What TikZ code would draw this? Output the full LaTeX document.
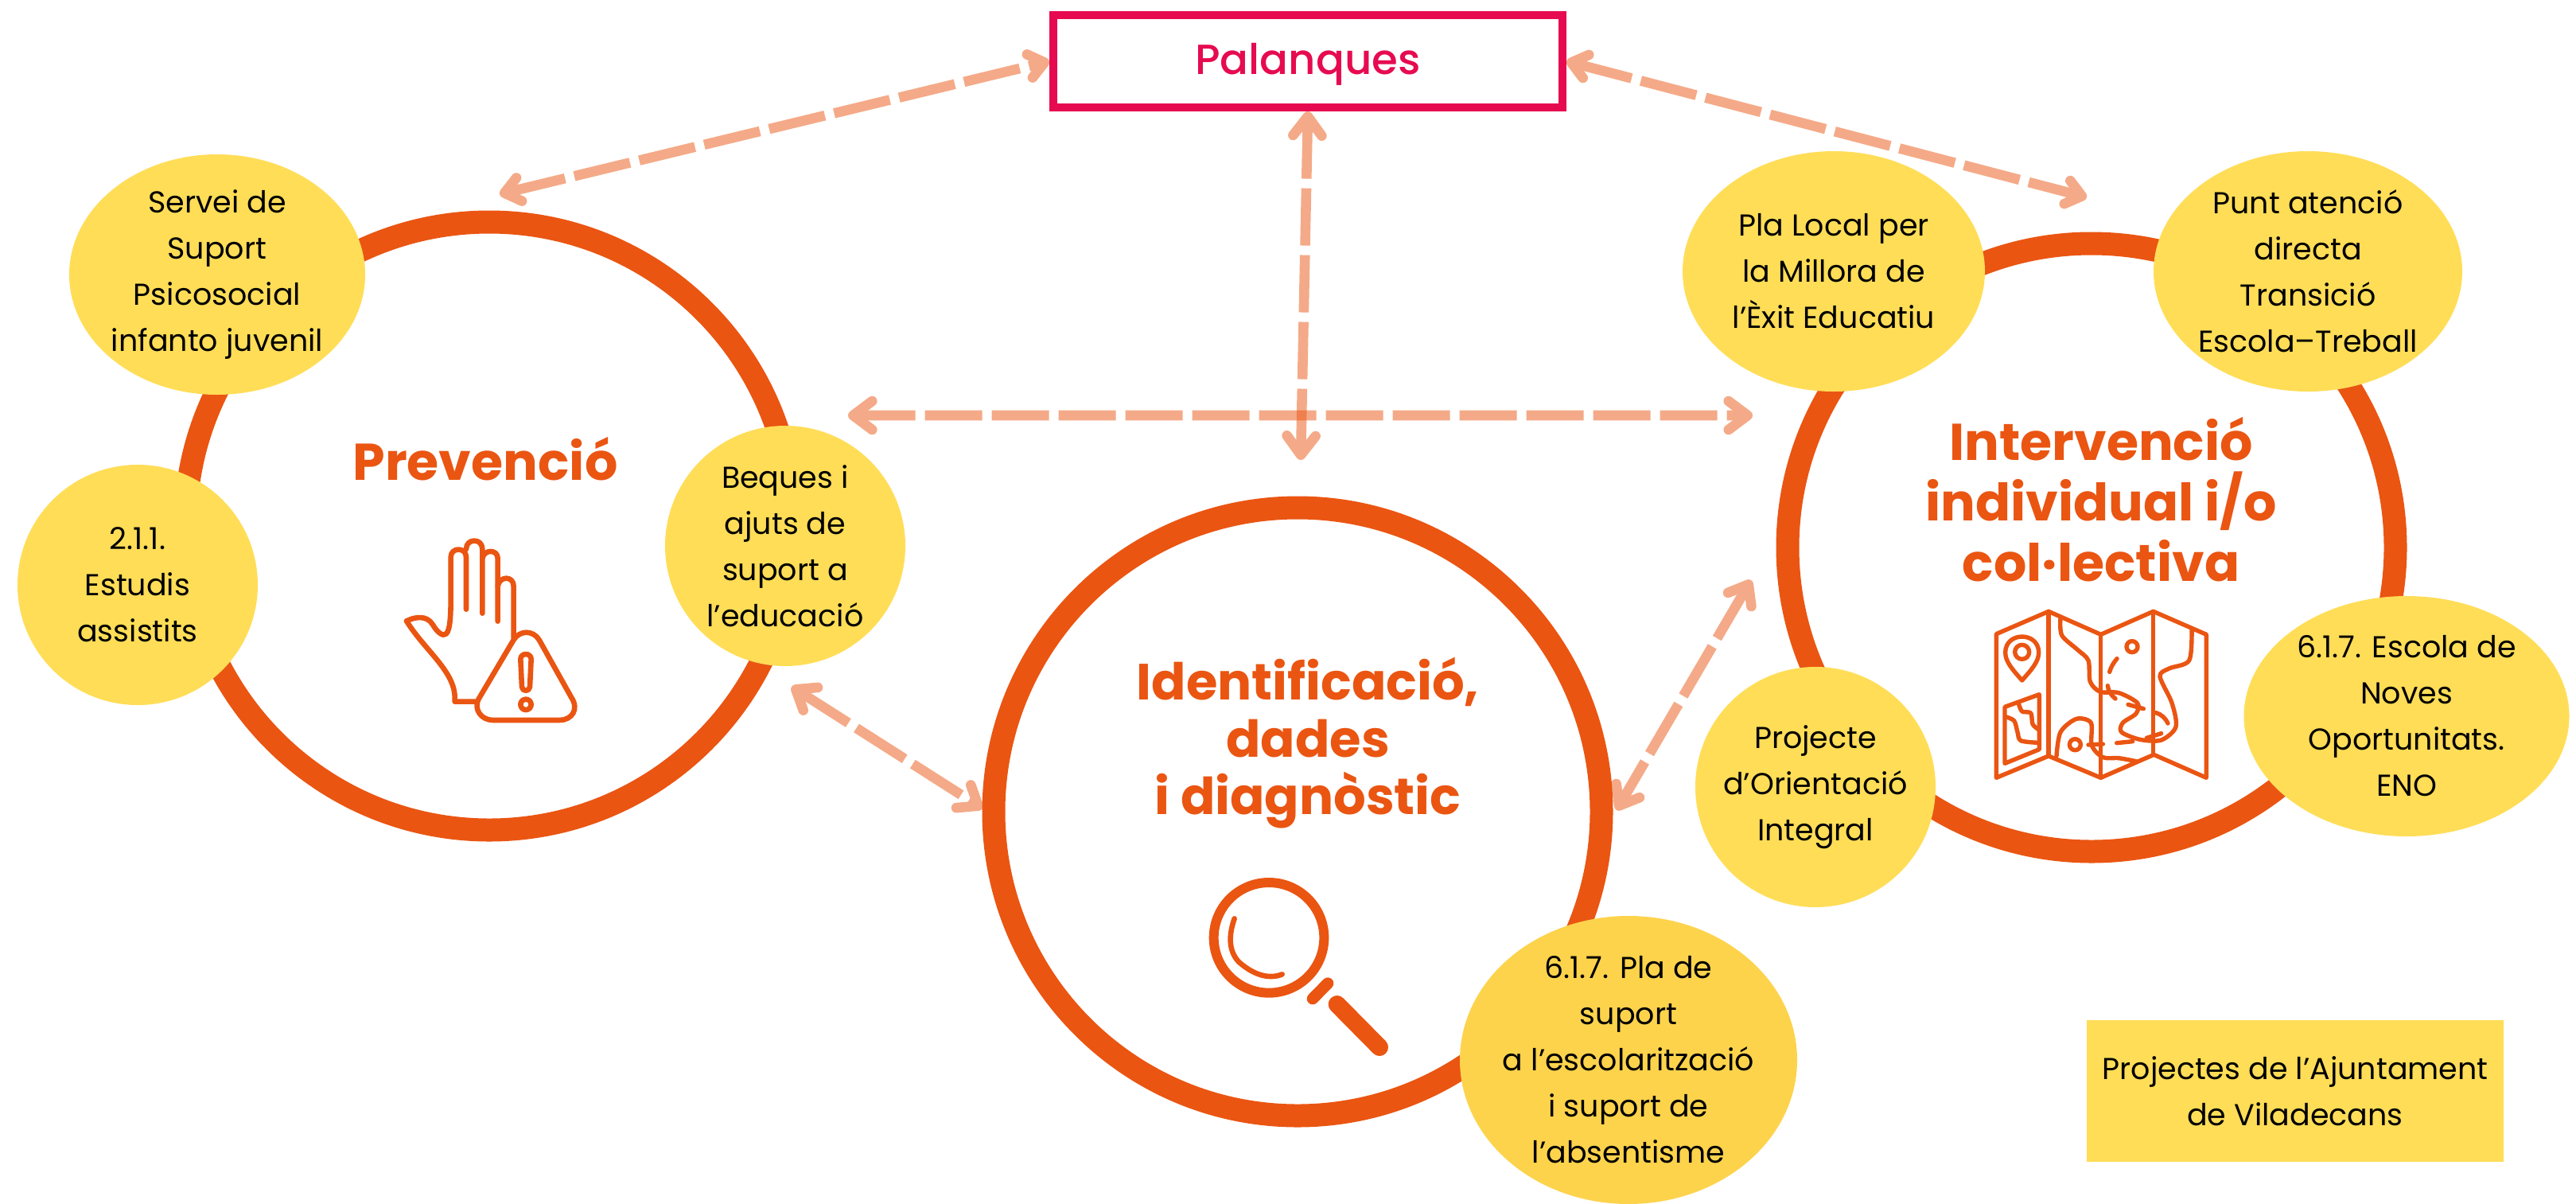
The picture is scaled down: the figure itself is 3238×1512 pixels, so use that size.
\documentclass[tikz,border=0pt]{standalone}
\usepackage{fontspec}
\setmainfont{Poppins}
\newfontfamily\medfont{Poppins Medium}
\usetikzlibrary{shapes.geometric,arrows.meta}
\definecolor{ringc}{HTML}{EA5512}
\definecolor{pinkc}{HTML}{E60B50}
\definecolor{yelc}{HTML}{FFDD57}
\definecolor{yeld}{HTML}{FDD34C}
\tikzset{
 ring/.style={circle,draw=ringc,line width=14.5pt,minimum size=382pt,inner sep=0pt},
 blob/.style={ellipse,fill=yelc,inner sep=-30pt,minimum height=151pt,minimum width=151pt,align=center,font=\fontsize{19}{29}\selectfont},
 head/.style={text=ringc,align=center,inner sep=0pt,font=\fontsize{32.5}{38}\selectfont\bfseries},
 link/.style={draw=ringc,line width=6.3pt,dash pattern=on 36pt off 6pt},
 tipbig/.style={link,{Straight Barb[length=12pt,width=18pt,round]}-{Straight Barb[length=12pt,width=18pt,round]}},
 tipmid/.style={link,{Straight Barb[length=11pt,width=17pt,round]}-{Straight Barb[length=11pt,width=17pt,round]}},
 tipsmall/.style={link,{Straight Barb[length=9.5pt,width=15pt,round]}-{Straight Barb[length=9.5pt,width=15pt,round]}},
 veil/.style={transparency group,opacity=0.5},
 ico/.style={draw=ringc,line cap=round,line join=round,fill=none},
}
\begin{document}
\begin{tikzpicture}[x=0.5pt,y=-0.5pt]
\useasboundingbox (0,0) rectangle (3238,1512);
% rings
\node[ring] (prev) at (615,661) {};
\node[ring] (ident) at (1631,1020) {};
\node[ring] (inter) at (2629,688) {};
% free ends of connectors
\coordinate (ap) at (628,244);
\coordinate (bp) at (2623,248);
\coordinate (cp) at (1635,578);
\coordinate (dl) at (1066,522);
\coordinate (dr) at (2203,522);
\coordinate (el) at (995,863);
\coordinate (er) at (1235,1016);
\coordinate (fr) at (2201,729);
\coordinate (fl) at (2032,1018);
% blobs
\node[blob,minimum width=186pt] (servei) at (273,345) {Servei de\\Suport\\Psicosocial\\infanto juvenil};
\node[blob] (estudis) at (173,735) {2.1.1.\\Estudis\\assistits};
\node[blob] (beques) at (987,686) {Beques i\\ajuts de\\suport a\\l’educació};
\node[blob,minimum width=190pt] (pla) at (2305,341) {Pla Local per\\la Millora de\\l’Èxit Educatiu};
\node[blob,minimum width=194pt] (punt) at (2901,341) {Punt atenció\\directa\\Transició\\Escola–Treball};
\node[blob,minimum width=204.5pt] (eno) at (3025,900) {6.1.7. Escola de\\Noves\\Oportunitats.\\ENO};
\node[blob] (orient) at (2282,989) {Projecte\\d’Orientació\\Integral};
\node[blob,fill=yeld,minimum width=212pt,minimum height=181pt] (absent) at (2047,1332) {6.1.7. Pla de\\suport\\a l’escolarització\\i suport de\\l’absentisme};
\node[rectangle,fill=yelc,minimum width=262pt,minimum height=89pt,inner sep=0pt,align=center,font=\fontsize{19}{29}\selectfont] (legend) at (2885,1371) {Projectes de l’Ajuntament\\de Viladecans};
\node[rectangle,draw=pinkc,line width=5pt,fill=white,minimum width=320pt,minimum height=58pt,inner sep=0pt,text=pinkc,font=\fontsize{26.5}{28}\medfont] (pal) at (1644,77) {\raisebox{-8pt}[0pt][0pt]{Palanques}};
% heads
\node[head] (tprev) at (610,577) {Prevenció};
\node[head,font=\fontsize{32}{36}\selectfont\bfseries] (tident) at (1644,934) {Identificació,\\dades\hspace*{64pt}\\i diagnòstic};
\node[head] (tinter) at (2641,628) {Intervenció\\individual i/o\\col·lectiva};
% connectors
\scoped[veil] \draw[tipsmall] (ap) -- (pal.west);
\scoped[veil] \draw[tipsmall] (pal.east) -- (bp);
\scoped[veil] \draw[tipbig] (pal.south) -- (cp);
\scoped[veil] \draw[tipbig] (dl) -- (dr);
\scoped[veil] \draw[tipmid] (el) -- (er);
\scoped[veil] \draw[tipmid] (fr) -- (fl);
% hand icon
\begin{scope}[shift={(400,600)},scale=1/3,ico,line width=3.3pt]
\draw (333,541) .. controls (365,525) and (410,518) .. (432,555)
  .. controls (450,585) and (470,600) .. (482,590)
  .. controls (500,575) and (500,500) .. (500,440) -- (500,300)
  .. controls (500,262) and (558,262) .. (558,300) -- (558,497);
\draw (558,270) .. controls (558,228) and (619,228) .. (619,270) -- (619,512);
\draw (619,305) .. controls (625,270) and (677,270) .. (677,305) -- (677,542);
\draw (677,410) .. controls (683,370) and (737,370) .. (737,410) -- (737,605);
\draw (333,541) .. controls (400,650) and (515,730) .. (515,830) -- (515,845) -- (600,845);
\draw (737,612) -- (605,835) .. controls (585,875) and (615,915) .. (660,915) -- (910,915)
  .. controls (955,915) and (985,875) .. (955,830) -- (833,612)
  .. controls (810,575) and (760,575) .. (737,612);
\draw (763,685) .. controls (763,660) and (803,660) .. (803,685) -- (798,790)
  .. controls (796,808) and (770,808) .. (768,790) -- cycle;
\draw (783,856) circle (20);
\end{scope}
% magnifier icon
\begin{scope}[shift={(1450,1060)},scale=1/3,ico]
\draw[line width=6pt] (435,355) circle (208);
\draw[line width=3.3pt] (305,283) .. controls (285,340) and (280,400) .. (320,445) .. controls (370,490) and (430,515) .. (485,493);
\draw[line width=7.3pt] (600,585) -- (657,527);
\draw[line width=11pt] (692,606) -- (852,768);
\end{scope}
% map icon
\begin{scope}[shift={(2430,740)},scale=1/3,ico,line width=2.7pt]
\draw (238,170) -- (435,85) -- (632,172) -- (830,85) -- (1030,172) -- (1030,712) -- (832,625) -- (632,712) -- (435,630) -- (238,712) -- cycle;
\draw (435,85) -- (435,630);
\draw (632,172) -- (632,712);
\draw (830,85) -- (830,625);
\draw (335,345) .. controls (300,305) and (272,275) .. (272,240) .. controls (272,160) and (398,160) .. (398,240) .. controls (398,275) and (370,305) .. (335,345) -- cycle;
\draw (335,238) circle (27);
\draw (270,445) -- (400,398) -- (400,605) -- (270,658) -- cycle;
\draw plot[smooth] coordinates {(322,432) (335,462) (368,468) (375,510) (397,530)};
\draw plot[smooth] coordinates {(272,482) (305,497) (318,540) (330,572) (395,580)};
\draw (750,218) circle (21);
\draw (535,587) circle (21);
\draw plot[smooth] coordinates {(480,110) (485,175) (545,230) (585,270) (592,350) (630,388) (700,392) (770,430) (765,470) (715,505) (710,540) (780,568) (860,570) (915,520) (900,430) (855,330) (890,300) (965,270) (975,155)};
\draw plot[smooth] coordinates {(465,630) (480,540) (540,490) (595,505) (598,590) (640,635) (700,638) (765,650)};
\draw (585,588) -- (640,585);
\draw (692,581) -- (752,575);
\draw (805,562) -- (860,545);
\draw (735,436) -- (793,452);
\draw (658,365) .. controls (660,385) and (670,400) .. (687,414);
\draw (665,313) .. controls (670,295) and (680,278) .. (693,263);
\draw (840,467) .. controls (860,472) and (878,490) .. (885,507);
\end{scope}
\end{tikzpicture}
\end{document}
